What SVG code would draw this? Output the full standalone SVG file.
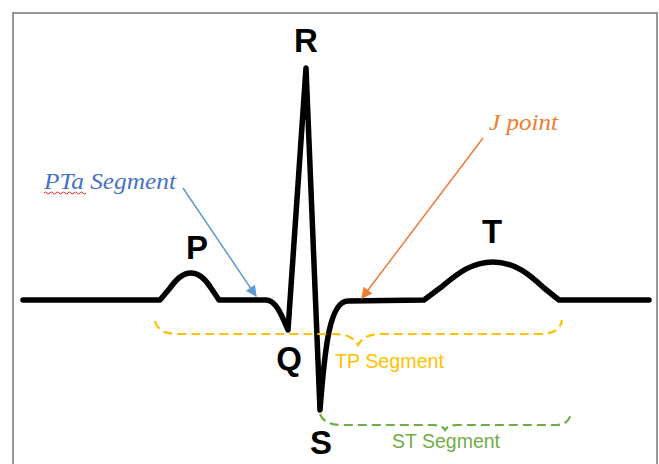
<svg xmlns="http://www.w3.org/2000/svg" width="659" height="464" viewBox="0 0 659 464">
<defs>
<style>
.frame{fill:none;stroke:#7f7f7f;stroke-width:1.6}
.ecg{fill:none;stroke:#000;stroke-width:5.5;stroke-linejoin:round;stroke-linecap:round}
.wl{font-family:"Liberation Sans",Arial,sans-serif;font-weight:bold;font-size:33px;fill:#000;text-anchor:middle}
.it{font-family:"Liberation Serif","Times New Roman",serif;font-style:italic;font-size:23px}
.seg{font-family:"Liberation Sans",Arial,sans-serif;font-size:20px}
.brace{fill:none;stroke-width:2.2;stroke-dasharray:9 5;stroke-linecap:butt}
</style>
<marker id="ab" viewBox="0 0 10 10" refX="9" refY="5" markerWidth="13" markerHeight="11" markerUnits="userSpaceOnUse" orient="auto"><path d="M0,0 L10,5 L0,10 z" fill="#5b9bd5"/></marker>
<marker id="ao" viewBox="0 0 10 10" refX="9" refY="5" markerWidth="13" markerHeight="11" markerUnits="userSpaceOnUse" orient="auto"><path d="M0,0 L10,5 L0,10 z" fill="#ed7d31"/></marker>
</defs>
<rect width="659" height="464" fill="#fff"/>
<rect class="frame" x="13" y="13" width="644" height="470"/>
<g id="ecg-trace">
<path class="ecg" d="M23,300 L160,300 L170,288 C176,280 182,273 191,273 C200,273 206,280 211,288 L219,300 L266,300 C276,300 282,316 288,330 L306,68 L320,410 C325,345 330,301 348,301 L424,300 L440,288 C455,276 470,262 493,262 C516,262 531,276 544,288 L559,300 L649,300"/>
</g>
<g id="wave-labels">
<text id="label-R" class="wl" x="306" y="52">R</text>
<text id="label-P" class="wl" x="197" y="259">P</text>
<text id="label-T" class="wl" x="492" y="243">T</text>
<text id="label-Q" class="wl" x="289" y="370">Q</text>
<text id="label-S" class="wl" x="321" y="454">S</text>
</g>
<g id="pta-label">
<text class="it" x="44" y="189" fill="#4472c4" textLength="132" lengthAdjust="spacingAndGlyphs">PTa Segment</text>
<path d="M44,193 q1.5,-2 3,0 t3,0 t3,0 t3,0 t3,0 t3,0 t3,0 t3,0 t3,0 t3,0 t3,0 t3,0 t3,0 t3,0" fill="none" stroke="#e02020" stroke-width="1"/>
</g>
<g id="j-label">
<text class="it" x="489" y="130" fill="#ed7d31" textLength="69" lengthAdjust="spacingAndGlyphs">J point</text>
</g>
<g id="tp-label">
<text class="seg" x="335" y="368" fill="#ffc000" textLength="109" lengthAdjust="spacingAndGlyphs">TP Segment</text>
</g>
<g id="st-label">
<text class="seg" x="392" y="448" fill="#70ad47" textLength="108" lengthAdjust="spacingAndGlyphs">ST Segment</text>
</g>
<g id="connectors">
<line x1="183" y1="188" x2="256" y2="296" stroke="#5b9bd5" stroke-width="1.5" marker-end="url(#ab)"/>
<line x1="483" y1="138" x2="362" y2="298" stroke="#ed7d31" stroke-width="1.5" marker-end="url(#ao)"/>
<path class="brace" stroke="#ffc000" d="M155,321 Q158,334 178,334 L335,334 Q352,334 358,345 Q364,334 381,334 L540,334 Q560,334 562,320"/>
<path class="brace" stroke="#70ad47" d="M320,414 Q324,425 342,425 L433,425 Q442,425 445,430 Q448,425 457,425 L556,425 Q568,425 571,414"/>
</g>
</svg>
